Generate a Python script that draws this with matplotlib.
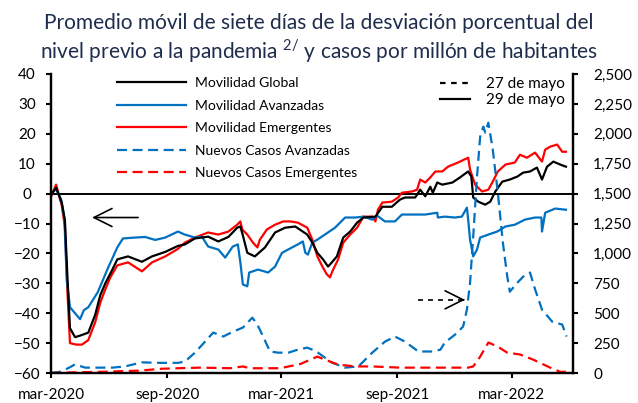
import matplotlib
matplotlib.use("Agg")
import matplotlib.pyplot as plt
import matplotlib.ticker as mticker
import pandas as pd
from matplotlib.lines import Line2D

plt.rcParams['font.family'] = ['Lato', 'DejaVu Sans']
plt.rcParams['mathtext.fontset'] = 'custom'
plt.rcParams['mathtext.rm'] = 'Lato'

# Movilidad (eje izquierdo, % desviación)
global_dates = ['2020-03-01', '2020-03-09', '2020-03-18', '2020-03-23', '2020-03-27', '2020-03-31',
                '2020-04-08', '2020-04-16', '2020-04-29', '2020-05-10', '2020-05-18', '2020-05-26',
                '2020-06-06', '2020-06-14', '2020-07-01', '2020-07-23', '2020-08-08', '2020-08-29',
                '2020-09-18', '2020-09-29', '2020-10-15', '2020-11-05', '2020-11-21', '2020-12-07',
                '2020-12-21', '2020-12-26', '2020-12-30', '2021-01-06', '2021-01-18', '2021-02-03',
                '2021-02-19', '2021-03-07', '2021-03-23', '2021-04-04', '2021-04-11', '2021-04-19',
                '2021-04-27', '2021-05-06', '2021-05-14', '2021-05-20', '2021-05-28', '2021-06-07',
                '2021-06-18', '2021-06-29', '2021-07-09', '2021-07-28', '2021-08-08', '2021-08-23',
                '2021-09-05', '2021-09-13', '2021-09-29', '2021-10-07', '2021-10-15', '2021-10-23',
                '2021-10-27', '2021-11-03', '2021-11-11', '2021-11-27', '2021-12-09', '2021-12-22',
                '2021-12-27', '2021-12-30', '2022-01-07', '2022-01-18', '2022-01-26', '2022-02-03',
                '2022-02-14', '2022-02-26', '2022-03-10', '2022-03-19', '2022-03-30', '2022-04-10',
                '2022-04-18', '2022-04-26', '2022-05-06', '2022-05-17', '2022-05-26']
global_vals = [-0.5, 2, -3, -9, -28, -45,
               -48, -47.5, -46.5, -40.5, -34, -30,
               -25.5, -22, -21, -22.8, -21, -19.5,
               -17.5, -17, -15, -14.4, -16, -14.5,
               -11.4, -11, -14, -19.8, -21, -18,
               -13, -11.4, -11, -12.7, -13.7, -16.4,
               -19.8, -22, -24.4, -23, -21, -14.7,
               -12.7, -9.7, -8, -7.7, -4.4, -4.4,
               -2, -1.3, -1.3, 1.3, -0.9, 2.3,
               0.3, 3.7, 3, 3.7, 5.4, 7.4,
               5.7, -1.3, -2.7, -3.7, -2.7, 0.7,
               4, 4.7, 5.7, 7, 7.4, 8.7,
               4.7, 9, 10.7, 9.7, 9]

avz_dates = ['2020-03-01', '2020-03-09', '2020-03-17', '2020-03-22', '2020-03-26', '2020-03-31',
             '2020-04-08', '2020-04-16', '2020-04-22', '2020-04-29', '2020-05-14', '2020-05-30',
             '2020-06-14', '2020-06-23', '2020-07-12', '2020-07-28', '2020-08-13', '2020-08-29',
             '2020-09-18', '2020-09-29', '2020-10-15', '2020-10-26', '2020-11-05', '2020-11-21',
             '2020-12-02', '2020-12-14', '2020-12-22', '2020-12-26', '2020-12-30', '2021-01-06',
             '2021-01-09', '2021-01-23', '2021-02-08', '2021-02-19', '2021-03-02', '2021-03-18',
             '2021-03-27', '2021-04-04', '2021-04-08', '2021-04-12', '2021-04-19', '2021-04-27',
             '2021-05-09', '2021-05-25', '2021-06-10', '2021-06-26', '2021-07-09', '2021-07-23',
             '2021-07-31', '2021-08-12', '2021-08-28', '2021-09-08', '2021-09-29', '2021-10-15',
             '2021-11-03', '2021-11-04', '2021-11-15', '2021-12-01', '2021-12-12', '2021-12-20',
             '2021-12-22', '2021-12-25', '2021-12-30', '2022-01-05', '2022-01-10', '2022-01-23',
             '2022-02-06', '2022-02-19', '2022-03-06', '2022-03-22', '2022-04-07', '2022-04-17',
             '2022-04-18', '2022-04-23', '2022-05-09', '2022-05-26']
avz_vals = [0, 1.5, -2, -8, -29, -38,
            -40, -42, -39, -38, -33, -25,
            -18, -15, -14.7, -14.5, -15.5, -14.7,
            -12.7, -13.7, -14.7, -14.4, -17.7, -18.7,
            -21.4, -17.7, -17, -23, -30.4, -31,
            -26.4, -25.4, -26.4, -24.4, -19.8, -18,
            -17, -16, -19.8, -20.4, -16.4, -15.4,
            -13.7, -11.4, -8, -8, -7.7, -8.7,
            -7.4, -9.3, -9.3, -7, -7, -7,
            -6.4, -8, -7.7, -8, -7.7, -4.7,
            -8.7, -15.4, -21, -18.7, -14.7, -13.7,
            -12.7, -11, -10.4, -8.7, -8, -8,
            -12.7, -6.4, -5, -5.4]

emg_dates = ['2020-03-01', '2020-03-09', '2020-03-18', '2020-03-23', '2020-03-27', '2020-03-31',
             '2020-04-10', '2020-04-19', '2020-04-29', '2020-05-10', '2020-05-18', '2020-05-26',
             '2020-06-03', '2020-06-14', '2020-07-01', '2020-07-23', '2020-08-08', '2020-08-29',
             '2020-09-18', '2020-09-29', '2020-10-15', '2020-11-05', '2020-11-21', '2020-12-07',
             '2020-12-21', '2020-12-26', '2020-12-29', '2021-01-06', '2021-01-15', '2021-01-22',
             '2021-01-26', '2021-02-06', '2021-02-19', '2021-03-04', '2021-03-15', '2021-03-27',
             '2021-04-11', '2021-04-19', '2021-04-27', '2021-05-05', '2021-05-12', '2021-05-17',
             '2021-05-22', '2021-05-30', '2021-06-07', '2021-06-18', '2021-06-29', '2021-07-09',
             '2021-07-23', '2021-07-28', '2021-08-01', '2021-08-08', '2021-08-23', '2021-09-02',
             '2021-09-08', '2021-09-24', '2021-10-02', '2021-10-07', '2021-10-15', '2021-10-23',
             '2021-10-31', '2021-11-11', '2021-11-20', '2021-12-06', '2021-12-22', '2021-12-25',
             '2022-01-02', '2022-01-13', '2022-01-23', '2022-01-30', '2022-02-07', '2022-02-19',
             '2022-03-06', '2022-03-14', '2022-03-25', '2022-04-07', '2022-04-18', '2022-04-23',
             '2022-05-01', '2022-05-12', '2022-05-20', '2022-05-26']
emg_vals = [-1, 3, -4, -11, -33, -50,
            -50.5, -50.5, -49, -43, -36.5, -32,
            -28, -24, -23, -26, -23, -21,
            -18.5, -16.4, -14.7, -13, -13.7, -12.7,
            -10.4, -9.3, -12, -13.7, -16.4, -18,
            -15.4, -12, -10.4, -9.3, -9.3, -9.7,
            -11.4, -15.4, -21, -24.4, -27, -28,
            -25.4, -22, -16.4, -13.7, -11.4, -7.7,
            -7.7, -9.3, -5.4, -3, -2.7, -1.3,
            0.3, 0.7, 1.3, 4.7, 3.7, 5.4,
            7.4, 7.4, 9, 10.4, 12, 8,
            3, 0.7, 1.3, 4, 7.4, 9.7,
            10.4, 13, 12, 13.7, 10.7, 14.7,
            15.7, 16.4, 14, 14]

# Nuevos casos por millón (eje derecho)
cas_avz_dates = ['2020-03-01', '2020-03-15', '2020-03-28', '2020-04-08', '2020-04-24', '2020-05-18',
                 '2020-06-06', '2020-06-26', '2020-07-23', '2020-08-21', '2020-09-18', '2020-09-29',
                 '2020-10-15', '2020-10-31', '2020-11-13', '2020-11-29', '2020-12-14', '2020-12-30',
                 '2021-01-14', '2021-01-22', '2021-01-31', '2021-02-11', '2021-02-24', '2021-03-12',
                 '2021-03-27', '2021-04-11', '2021-04-19', '2021-04-28', '2021-05-20', '2021-06-10',
                 '2021-07-01', '2021-07-23', '2021-08-12', '2021-08-28', '2021-09-13', '2021-10-04',
                 '2021-10-26', '2021-11-08', '2021-11-15', '2021-12-01', '2021-12-14', '2021-12-20',
                 '2021-12-25', '2021-12-30', '2022-01-05', '2022-01-10', '2022-01-15', '2022-01-18',
                 '2022-01-23', '2022-01-30', '2022-02-07', '2022-02-15', '2022-02-22', '2022-02-26',
                 '2022-03-10', '2022-03-19', '2022-03-30', '2022-04-07', '2022-04-18', '2022-05-04',
                 '2022-05-20', '2022-05-27']
cas_avz_vals = [0, 10, 40, 72, 45, 45,
                45, 55, 89, 85, 85, 95,
                170, 262, 338, 305, 345, 380,
                463, 405, 305, 180, 170, 170,
                195, 212, 195, 170, 87, 45,
                55, 170, 262, 305, 262, 180,
                180, 195, 255, 320, 388, 530,
                755, 1140, 1642, 1975, 2060, 2010,
                2093, 1868, 1508, 1090, 805, 680,
                755, 805, 840, 700, 530, 430,
                405, 305]

cas_emg_dates = ['2020-03-01', '2020-03-31', '2020-05-18', '2020-07-20', '2020-08-21', '2020-09-18',
                 '2020-10-23', '2020-12-10', '2020-12-30', '2021-01-10', '2021-02-27', '2021-03-31',
                 '2021-04-16', '2021-04-27', '2021-05-09', '2021-05-30', '2021-06-26', '2021-07-23',
                 '2021-09-05', '2021-12-22', '2021-12-30', '2022-01-10', '2022-01-23', '2022-02-07',
                 '2022-02-22', '2022-03-14', '2022-04-04', '2022-05-01', '2022-05-17', '2022-05-26']
cas_emg_vals = [0, 5, 10, 20, 35, 40,
                45, 40, 55, 40, 40, 75,
                112, 137, 112, 70, 55, 55,
                45, 45, 55, 137, 255, 220,
                170, 155, 112, 45, 10, 10]

tick_dates = ['2020-03-01', '2020-09-01', '2021-03-01', '2021-09-01', '2022-03-01']
tick_labels = ['mar-2020', 'sep-2020', 'mar-2021', 'sep-2021', 'mar-2022']

BLUE = '#0070C0'
RED = '#FF0000'
DASH = (4.5, 2.5)

fig = plt.figure(figsize=(6.38, 4.03), dpi=100)
ax = fig.add_axes([0.080, 0.0744, 0.818, 0.742])
ax2 = ax.twinx()

ax.axhline(0, color='black', lw=1.4, zorder=1)
ax.plot(pd.to_datetime(emg_dates), emg_vals, color=RED, lw=1.6, zorder=3)
ax.plot(pd.to_datetime(avz_dates), avz_vals, color=BLUE, lw=1.6, zorder=3)
ax.plot(pd.to_datetime(global_dates), global_vals, color='black', lw=1.6, zorder=4)

ax2.plot(pd.to_datetime(cas_avz_dates), cas_avz_vals, color=BLUE, lw=1.6, dashes=DASH)
ax2.plot(pd.to_datetime(cas_emg_dates), cas_emg_vals, color=RED, lw=1.6, dashes=DASH)

ax.set_xlim(pd.Timestamp('2020-03-01'), pd.Timestamp('2022-06-06'))
ax.set_ylim(-60, 40)
ax2.set_ylim(0, 2500)
ax.set_yticks(range(-60, 41, 10))
ax2.set_yticks(range(0, 2501, 250))
ax2.yaxis.set_major_formatter(mticker.FuncFormatter(lambda v, p: f'{v:,.0f}'))
ax.set_xticks(pd.to_datetime(tick_dates))
ax.set_xticklabels(tick_labels)

for a in (ax, ax2):
    a.spines['top'].set_visible(False)
    for s in ('left', 'right', 'bottom'):
        a.spines[s].set_linewidth(1.6)
    a.tick_params(length=3.5, width=1.5, labelsize=11, colors='black')
ax.tick_params(axis='y', pad=14)
for lab in ax.get_yticklabels():
    lab.set_horizontalalignment('center')
ax.tick_params(axis='x', pad=7)
ax2.tick_params(axis='y', pad=11)

# flechas
arrow_kw = dict(arrowstyle='->,head_length=1.3,head_width=0.65', color='black', lw=1.2,
                shrinkA=0, shrinkB=0, mutation_scale=10)
ax.annotate('', xy=(pd.Timestamp('2020-05-05'), -8), xytext=(pd.Timestamp('2020-07-17'), -8),
            arrowprops=arrow_kw)
ax2.plot(pd.to_datetime(['2021-10-04', '2021-12-16']), [612, 612], color='black', lw=1.2, dashes=(3, 3))
ax2.annotate('', xy=(pd.Timestamp('2021-12-17'), 612), xytext=(pd.Timestamp('2021-12-14'), 612),
             arrowprops=arrow_kw)

# leyendas
h1 = [Line2D([], [], color='black', lw=1.6),
      Line2D([], [], color=BLUE, lw=1.6),
      Line2D([], [], color=RED, lw=1.6),
      Line2D([], [], color=BLUE, lw=1.6, dashes=DASH),
      Line2D([], [], color=RED, lw=1.6, dashes=DASH)]
l1 = ['Movilidad Global', 'Movilidad Avanzadas', 'Movilidad Emergentes',
      'Nuevos Casos Avanzadas', 'Nuevos Casos Emergentes']
leg1 = ax2.legend(h1, l1, loc='upper left', bbox_to_anchor=(0.126, 0.99), frameon=False,
                  fontsize=10, handlelength=5.0, handletextpad=0.65, labelspacing=0.76,
                  borderpad=0, borderaxespad=0)
ax2.add_artist(leg1)
h2 = [Line2D([], [], color='black', lw=1.6, dashes=(2.5, 2.5)),
      Line2D([], [], color='black', lw=1.6)]
ax2.legend(h2, ['27 de mayo', '29 de mayo'], loc='upper left', bbox_to_anchor=(0.745, 0.99),
           frameon=False, fontsize=11, handlelength=2.0, handletextpad=1.0, labelspacing=0.15,
           borderpad=0, borderaxespad=0)

title_color = '#1f2d4d'
fig.text(0.5, 0.943, 'Promedio móvil de siete días de la desviación porcentual del',
         ha='center', va='center', fontsize=15, color=title_color)
fig.text(0.5, 0.873, r'nivel previo a la pandemia $^{\mathregular{2/}}$ y casos por millón de habitantes',
         ha='center', va='center', fontsize=15, color=title_color)

fig.savefig('out.png', dpi=100)
